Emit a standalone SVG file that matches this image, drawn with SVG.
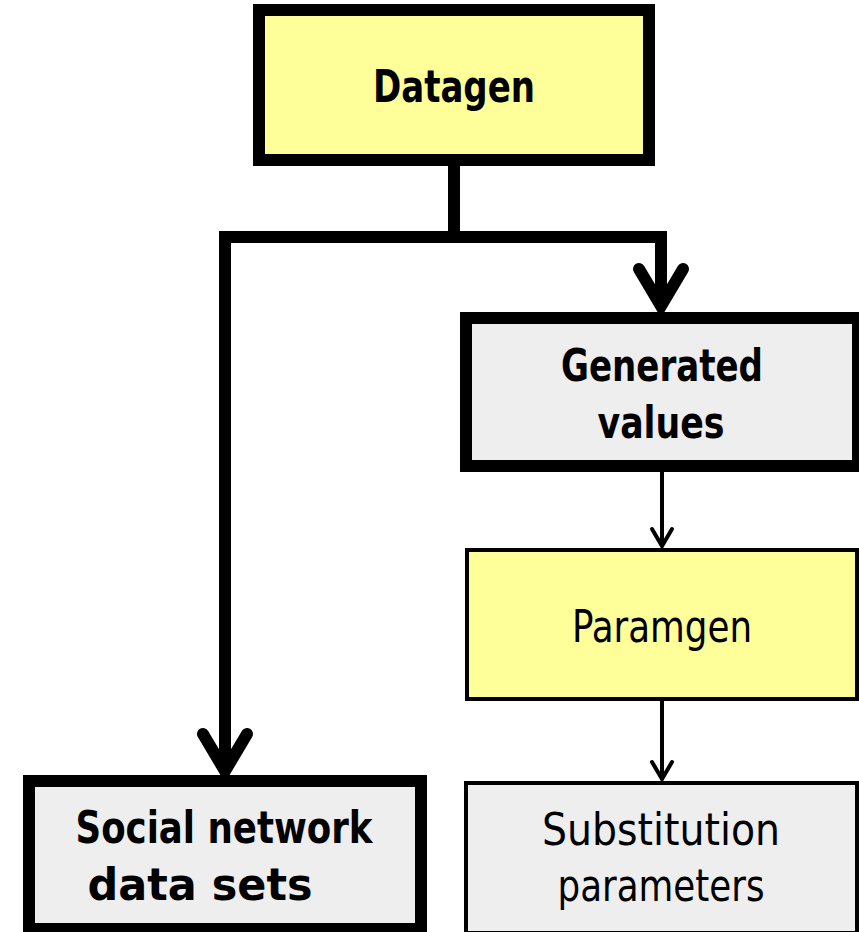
<svg xmlns="http://www.w3.org/2000/svg" width="859" height="932" viewBox="0 0 859 932">
  <style>
    .box-thick { stroke: #000; stroke-width: 12; }
    .box-thin { stroke: #000; stroke-width: 4; }
    .yellow { fill: #ffff99; }
    .grey { fill: #eeeeee; }
    .label { font-family: "Liberation Sans Narrow", "DejaVu Sans", "Liberation Sans", sans-serif; font-stretch: condensed; font-size: 45px; fill: #000; text-anchor: middle; }
    .bold { font-weight: bold; }
    .wire-thick { fill: none; stroke: #000; stroke-width: 12; stroke-linejoin: miter; }
    .wire-thin { fill: none; stroke: #000; stroke-width: 4; }
  </style>
  <defs>
    <marker id="head-thick" markerUnits="userSpaceOnUse" viewBox="-50 -30 60 60" markerWidth="60" markerHeight="60" refX="0" refY="0" orient="auto" overflow="visible">
      <path d="M -37,-22 L 0,0 L -37,22" fill="none" stroke="#000" stroke-width="12" stroke-linecap="round" stroke-linejoin="miter"/>
    </marker>
    <marker id="head-thin" markerUnits="userSpaceOnUse" viewBox="-20 -12 24 24" markerWidth="24" markerHeight="24" refX="0" refY="0" orient="auto" overflow="visible">
      <path d="M -17,-10 L 0,0 L -17,10" fill="none" stroke="#000" stroke-width="4" stroke-linecap="round" stroke-linejoin="miter"/>
    </marker>
  </defs>

  <rect width="859" height="932" fill="#ffffff"/>

  <g id="connectors">
    <!-- Datagen trunk splitting to both outputs -->
    <path class="wire-thick" d="M 454,160 V 237"/>
    <path class="wire-thick" d="M 225,237 H 661"/>
    <path class="wire-thick" d="M 225,231 V 771" marker-end="url(#head-thick)"/>
    <path class="wire-thick" d="M 661,231 V 306" marker-end="url(#head-thick)"/>
    <!-- Generated values -> Paramgen -> Substitution parameters -->
    <path class="wire-thin" d="M 662,466 V 546" marker-end="url(#head-thin)"/>
    <path class="wire-thin" d="M 662,699 V 779" marker-end="url(#head-thin)"/>
  </g>

  <g id="datagen">
    <rect class="box-thick yellow" x="259" y="10" width="390" height="150"/>
    <text class="label bold" x="454" y="102" textLength="162" lengthAdjust="spacingAndGlyphs">Datagen</text>
  </g>

  <g id="generated-values">
    <rect class="box-thick grey" x="466" y="318" width="392" height="148"/>
    <text class="label bold" x="662" y="381" textLength="202" lengthAdjust="spacingAndGlyphs">Generated</text>
    <text class="label bold" x="661" y="438" textLength="127" lengthAdjust="spacingAndGlyphs">values</text>
  </g>

  <g id="paramgen">
    <rect class="box-thin yellow" x="467" y="550" width="390" height="149"/>
    <text class="label" x="662" y="642" textLength="180" lengthAdjust="spacingAndGlyphs">Paramgen</text>
  </g>

  <g id="substitution-parameters">
    <rect class="box-thin grey" x="466" y="783" width="391" height="150"/>
    <text class="label" x="661" y="845" textLength="238" lengthAdjust="spacingAndGlyphs">Substitution</text>
    <text class="label" x="661" y="901" textLength="207" lengthAdjust="spacingAndGlyphs">parameters</text>
  </g>

  <g id="social-network-data-sets">
    <rect class="box-thick grey" x="29" y="781" width="392" height="148"/>
    <text class="label bold" x="224" y="843" textLength="297" lengthAdjust="spacingAndGlyphs">Social network</text>
    <text class="label bold" x="200" y="900" textLength="225" lengthAdjust="spacingAndGlyphs">data sets</text>
  </g>
</svg>
